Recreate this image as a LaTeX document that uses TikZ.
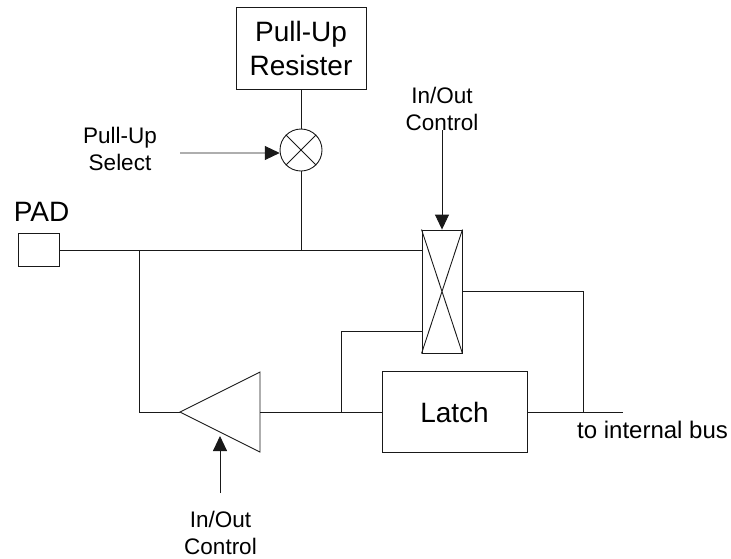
\documentclass[tikz,border=0pt]{standalone}
\usepackage{fontspec}
\setmainfont{Liberation Sans}
\usetikzlibrary{arrows.meta}
\begin{document}
\begin{tikzpicture}[x=1pt,y=-1pt,
  wire/.style={line width=0.9pt,draw=black!90},
  blk/.style={draw=black!90,line width=0.9pt,rectangle,inner sep=0pt},
  big/.style={font=\fontsize{28}{34}\selectfont,align=center},
  small/.style={font=\fontsize{22.5}{27}\selectfont,align=center,inner sep=0pt},
  ctl/.style={wire,-{Triangle[length=15pt,width=14pt]}}]
\useasboundingbox (0,0) rectangle (731,558);
% blocks
\node[blk,big,minimum width=130pt,minimum height=82pt] (pur) at (301,48) {Pull-Up\\Resister};
\node[draw=black!90,line width=0.9pt,circle,minimum size=42pt,inner sep=0pt] (sel) at (301,150) {};
\draw[wire] (sel.45) -- (sel.225) (sel.135) -- (sel.315);
\node[blk,minimum width=41pt,minimum height=33pt] (pad) at (38.5,250) {};
\node[blk,minimum width=40pt,minimum height=123pt] (sw) at (442,291.5) {};
\draw[wire] (sw.north west) -- (sw.south east) (sw.north east) -- (sw.south west);
\node[blk,big,minimum width=145pt,minimum height=81pt] (latch) at (454.5,412) {Latch};
% buffer
\coordinate (buftip) at (180,412);
\coordinate (buftop) at (260,372);
\coordinate (bufbot) at (260,452);
\coordinate (bufout) at (260,412);
\draw[wire,line join=miter] (buftip) -- (buftop) -- (bufbot) -- cycle;
% labels
\node[small] (padl) at (41.5,211.5) {\fontsize{28}{34}\selectfont PAD};
\node[small] (sell) at (120,148.5) {Pull-Up\\Select};
\node[small] (ctla) at (442,108.5) {In/Out\\Control};
\node[small] (ctlb) at (220.5,532.5) {In/Out\\Control};
\node[small,font=\fontsize{24}{29}\selectfont,anchor=base west] (busl) at (577,438) {to internal bus};
% junctions
\coordinate (j1) at (301,250);
\coordinate (j2) at (139,250);
\coordinate (j3) at (341,412);
\coordinate (j4) at (583,412);
\coordinate (busend) at (623,412);
\coordinate (sela) at (180,153);
\coordinate (ctlas) at (442,130);
\coordinate (ctlbs) at (220,493);
\coordinate (ctlbe) at (220,436);
% wires
\draw[wire] (pur.south) -- (sel.north);
\draw[wire] (sel.south) -- (j1);
\draw[wire] (pad.east) -- (sw.west |- pad.east);
\draw[wire] (j2) -- (j2 |- buftip) -- (buftip);
\draw[wire] (bufout) -- (latch.west);
\draw[wire] (j3) -- (341,331) -- (sw.west |- 0,331);
\draw[wire] (sw.east |- 0,291) -- (583,291) -- (j4);
\draw[wire] (latch.east) -- (busend);
% control arrows
\draw[ctl] (sela) -- (sel.188);
\draw[ctl] (ctlas) -- (sw.north);
\draw[ctl] (ctlbs) -- (ctlbe);
\end{tikzpicture}
\end{document}
